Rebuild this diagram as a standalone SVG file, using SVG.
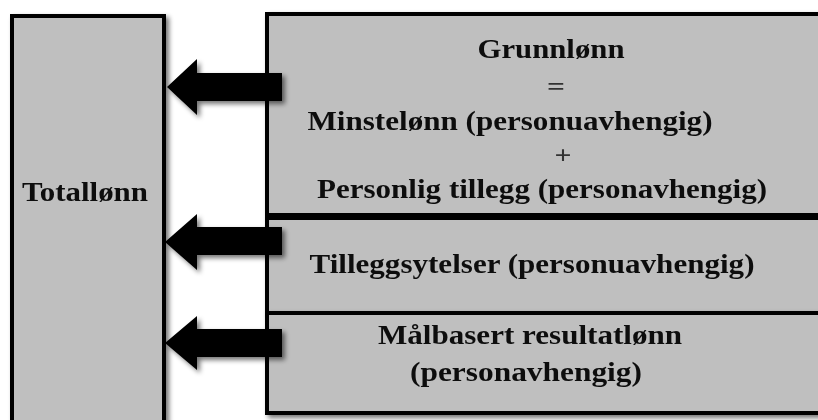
<svg xmlns="http://www.w3.org/2000/svg" width="818" height="420" viewBox="0 0 818 420">
  <defs>
    <filter id="shadow" x="-20%" y="-20%" width="150%" height="150%">
      <feGaussianBlur in="SourceAlpha" stdDeviation="2.5"/>
      <feOffset dx="3" dy="3" result="b"/>
      <feComponentTransfer><feFuncA type="linear" slope="0.55"/></feComponentTransfer>
      <feMerge><feMergeNode/><feMergeNode in="SourceGraphic"/></feMerge>
    </filter>
  </defs>
  <style>
    .box { fill: #bfbfbf; stroke: #000; stroke-width: 4; }
    .lbl { font-family: "Liberation Serif", "Times New Roman", serif; font-weight: bold; font-size: 27px; fill: #111; text-anchor: middle; }
    .sym { font-family: "Liberation Serif", "Times New Roman", serif; font-weight: bold; font-size: 26px; fill: #333; text-anchor: middle; }
    .arrow { fill: #000; }
  </style>
  <rect width="818" height="420" fill="#fff"/>

  <!-- total pay -->
  <g id="totallonn" filter="url(#shadow)">
    <rect class="box" x="12" y="16" width="152" height="420"/>
    <text class="lbl" x="85" y="201" textLength="126" lengthAdjust="spacingAndGlyphs">Totallønn</text>
  </g>

  <!-- base pay -->
  <g id="grunnlonn" filter="url(#shadow)">
    <rect class="box" x="267" y="14" width="570" height="201"/>
    <text class="lbl" x="551" y="58" textLength="147" lengthAdjust="spacingAndGlyphs">Grunnlønn</text>
    <text class="sym" x="556" y="95" textLength="18" lengthAdjust="spacingAndGlyphs">=</text>
    <text class="lbl" x="510" y="130" textLength="405" lengthAdjust="spacingAndGlyphs">Minstelønn (personuavhengig)</text>
    <text class="sym" x="563" y="164" textLength="17" lengthAdjust="spacingAndGlyphs">+</text>
    <text class="lbl" x="542" y="198" textLength="450" lengthAdjust="spacingAndGlyphs">Personlig tillegg (personavhengig)</text>
  </g>

  <!-- supplements -->
  <g id="tilleggsytelser" filter="url(#shadow)">
    <rect class="box" x="267" y="218" width="570" height="95"/>
    <text class="lbl" x="532" y="273" textLength="445" lengthAdjust="spacingAndGlyphs">Tilleggsytelser (personuavhengig)</text>
  </g>

  <!-- goal-based result pay -->
  <g id="malbasert" filter="url(#shadow)">
    <rect class="box" x="267" y="313" width="570" height="100"/>
    <text class="lbl" x="530" y="344" textLength="304" lengthAdjust="spacingAndGlyphs">Målbasert resultatlønn</text>
    <text class="lbl" x="526" y="381" textLength="232" lengthAdjust="spacingAndGlyphs">(personavhengig)</text>
  </g>

  <!-- block arrows -->
  <g id="connectors" filter="url(#shadow)">
    <polygon class="arrow" points="167,87 197,59 197,73 282,73 282,101 197,101 197,115"/>
    <polygon class="arrow" points="165,242 197,214 197,227 282,227 282,255 197,255 197,270"/>
    <polygon class="arrow" points="165,343 197,316 197,329 282,329 282,357 197,357 197,370"/>
  </g>
</svg>
